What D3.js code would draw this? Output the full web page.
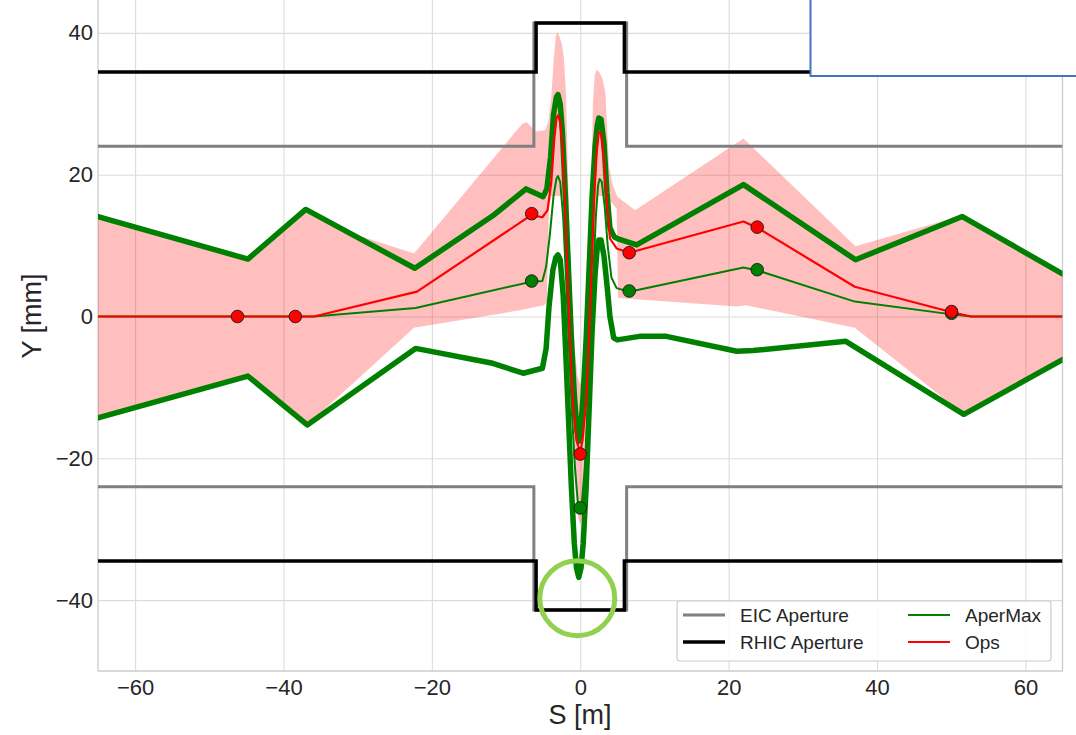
<!DOCTYPE html>
<html><head><meta charset="utf-8">
<script src="https://cdn.jsdelivr.net/npm/d3@7"></script>
<style>
body{margin:0;background:#fff;}
svg{display:block;}
text{font-family:"Liberation Sans",Arial,sans-serif;fill:#262626;}
</style>
</head><body>
<svg id="chart" width="1076" height="735"></svg>
<script>
// ---------------- data ----------------
const xTicks = [-60, -40, -20, 0, 20, 40, 60];
const yTicks = [-40, -20, 0, 20, 40];

// apertures
const eicS      = [-65, -6.25, -6.25, 6.25, 6.25, 65];
const eicTop    = [24, 24, 41.4, 41.4, 24, 24];
const eicBottom = [-24, -24, -41.4, -41.4, -24, -24];
const rhicS      = [-65, -5.95, -5.95, 5.95, 5.95, 65];
const rhicTop    = [34.5, 34.5, 41.4, 41.4, 34.5, 34.5];
const rhicBottom = [-34.5, -34.5, -41.4, -41.4, -34.5, -34.5];

// AperMax envelope (thick green)
const aperUpperS = [-65, -44.8, -37.0, -22.3, -11.8, -7.3, -5.0, -4.5, -4.0, -3.6, -3.2, -3.0, -2.7, -2.4, -2.0, -1.6, -1.2, -0.8, -0.45, -0.2, 0.05, 0.4, 0.8, 1.2, 1.6, 2.0, 2.3, 2.5, 2.8, 3.2, 3.6, 4.0, 4.6, 5.2, 7.6, 22.0, 37.1, 51.5, 65];
const aperUpperY = [14.1, 8.1, 15.1, 6.8, 14.2, 18.0, 16.9, 18.0, 22.5, 28.5, 31.0, 31.3, 30.0, 26.0, 17.0, 7.0, -3.0, -11.0, -16.0, -17.6, -16.0, -11.0, -3.0, 7.0, 17.0, 24.0, 27.0, 28.0, 27.8, 24.5, 17.5, 12.5, 11.2, 10.9, 10.1, 18.6, 8.0, 14.1, 6.0];
const aperLowerS = [-65, -44.8, -36.8, -22.2, -11.8, -7.7, -5.1, -4.6, -4.2, -3.7, -3.3, -3.0, -2.7, -2.3, -2.0, -1.6, -1.2, -0.8, -0.5, -0.2, 0.1, 0.4, 0.8, 1.2, 1.6, 2.0, 2.3, 2.5, 2.8, 3.2, 3.6, 4.0, 4.5, 5.0, 8.0, 11.6, 21.1, 23.3, 35.8, 51.7, 65];
const aperLowerY = [-14.3, -8.4, -15.3, -4.5, -6.6, -8.0, -7.3, -4.5, 1.5, 6.5, 8.3, 8.7, 8.0, 3.0, -4.0, -14.0, -24.0, -32.0, -35.5, -36.8, -35.5, -32.0, -24.0, -13.0, -2.0, 6.0, 9.8, 10.8, 10.8, 8.5, 4.5, 0.0, -3.0, -3.3, -2.8, -2.8, -4.9, -4.8, -3.5, -13.8, -6.1];

// AperMax orbit (thin green)
const aperOrbitS = [-65, -35.9, -22.2, -6.6, -5.1, -4.6, -4.1, -3.6, -3.2, -3.0, -2.7, -2.3, -1.9, -1.5, -1.1, -0.7, -0.3, 0, 0.2, 0.6, 1.0, 1.4, 1.8, 2.1, 2.4, 2.6, 2.9, 3.3, 3.7, 4.2, 4.9, 6.6, 22.0, 23.9, 37.0, 50.1, 52.7, 65];
const aperOrbitY = [0, 0, 1.2, 4.9, 5.0, 7.0, 11.5, 17.0, 19.5, 19.8, 19.0, 14.0, 5.0, -5.0, -14.0, -21.5, -26.5, -27.1, -26.5, -21.5, -13.5, -3.5, 7.0, 14.0, 18.5, 19.4, 19.0, 15.5, 10.0, 5.5, 4.0, 3.5, 6.9, 6.5, 2.1, 0.3, 0, 0];

// Ops orbit (red)
const opsS = [-65, -35.9, -22.0, -6.6, -5.1, -4.4, -3.9, -3.5, -3.2, -3.0, -2.7, -2.4, -2.1, -1.8, -1.4, -1.0, -0.5, 0, 0.3, 0.8, 1.2, 1.6, 1.9, 2.2, 2.5, 2.8, 3.2, 3.6, 4.0, 4.9, 6.6, 22.0, 23.9, 37.0, 50.1, 52.7, 65];
const opsY = [0, 0, 3.5, 14.3, 14.0, 15.0, 19.0, 25.0, 28.0, 28.4, 27.5, 24.0, 17.0, 8.0, -3.0, -12.0, -17.5, -19.2, -17.5, -12.0, -2.5, 8.5, 17.0, 23.0, 26.0, 25.8, 22.0, 16.0, 11.0, 9.6, 9.0, 13.4, 12.5, 4.2, 0.6, 0, 0];

// Ops envelope (pink band)
const opsUpperS = [-65, -44.8, -37.0, -32.8, -22.4, -7.8, -7.2, -6.0, -4.7, -4.3, -3.9, -3.6, -3.3, -3.1, -2.8, -2.5, -2.2, -1.9, -1.65, -1.4, -1.1, -0.7, -0.35, 0, 0.35, 0.7, 1.1, 1.4, 1.7, 1.95, 2.2, 2.6, 3.0, 3.4, 3.65, 3.9, 4.4, 5.0, 7.4, 22.0, 37.1, 51.0, 65];
const opsUpperY = [14.1, 8.2, 15.1, 12.4, 8.9, 27.2, 27.4, 26.1, 26.3, 27.5, 31.0, 36.0, 39.5, 40.1, 39.5, 38.5, 36.5, 31.0, 20.0, 10.0, 2.0, -5.0, -8.5, -9.6, -8.5, -5.0, 2.0, 12.0, 30.0, 34.0, 34.8, 34.4, 33.5, 31.5, 26.0, 21.0, 18.5, 16.9, 15.0, 25.1, 9.9, 14.1, 6.0];
const opsLowerS = [-65, -44.8, -36.8, -22.4, -8.0, -4.9, -4.5, -4.2, -3.9, -2.3, -2.0, -1.7, -1.4, -1.0, -0.6, -0.25, 0, 0.25, 0.6, 1.0, 1.4, 1.7, 2.0, 2.3, 3.5, 4.9, 5.1, 21.1, 22.3, 37.0, 51.7, 65];
const opsLowerY = [-14.3, -8.4, -15.3, -1.6, 0.9, 1.6, 2.0, 16.0, 17.0, 17.0, 12.0, 2.0, -8.0, -18.0, -25.0, -28.5, -29.3, -28.5, -25.0, -18.0, -8.0, 2.0, 12.0, 17.0, 17.0, 15.2, 2.6, 1.4, 1.6, -1.6, -13.8, -6.1];

// markers
const opsMarkS = [-46.2, -38.4, -6.55, 0, 6.6, 23.85, 50.05];
const opsMarkY = [0, 0, 14.5, -19.4, 9.0, 12.6, 0.7];
const aperMarkS = [-6.55, 0, 6.6, 23.85, 50.05];
const aperMarkY = [5.0, -27.0, 3.6, 6.6, 0.45];

const legendLabels = ["EIC Aperture", "RHIC Aperture", "AperMax", "Ops"];
const legendColors = ["#808080", "#000000", "#008000", "#ff0000"];

// ---------------- chart ----------------
const svg = d3.select("#chart");
const L = 98, R = 1062.5, T = 0, B = 671;
const x = d3.scaleLinear().domain([-65, 65]).range([L, R]);
const y = d3.scaleLinear().domain([-50, 44.64]).range([B, T]);
const zip = (a, b) => a.map((v, i) => [v, b[i]]);

svg.append("rect").attr("width", 1076).attr("height", 735).attr("fill", "#fff");

svg.append("defs").append("clipPath").attr("id", "clip")
  .append("rect").attr("x", L).attr("y", -10).attr("width", R - L).attr("height", B + 10);

// grid
const gx = svg.append("g").attr("transform", `translate(0,${B})`)
  .call(d3.axisBottom(x).tickValues(xTicks).tickSize(-(B + 10)).tickFormat(""));
gx.select(".domain").remove();
gx.selectAll("line").attr("stroke", "#dcdcdc").attr("stroke-width", 1.1);
const gy = svg.append("g").attr("transform", `translate(${L},0)`)
  .call(d3.axisLeft(y).tickValues(yTicks).tickSize(-(R - L)).tickFormat(""));
gy.select(".domain").remove();
gy.selectAll("line").attr("stroke", "#dcdcdc").attr("stroke-width", 1.1);

// spines
svg.append("line").attr("x1", L).attr("x2", L).attr("y1", -5).attr("y2", B).attr("stroke", "#cccccc").attr("stroke-width", 1.3);
svg.append("line").attr("x1", R).attr("x2", R).attr("y1", -5).attr("y2", B).attr("stroke", "#cccccc").attr("stroke-width", 1.3);
svg.append("line").attr("x1", L).attr("x2", R).attr("y1", B).attr("y2", B).attr("stroke", "#cccccc").attr("stroke-width", 1.3);

const plot = svg.append("g").attr("clip-path", "url(#clip)");
const lineL = d3.line().x(d => x(d[0])).y(d => y(d[1]));

// pink band
const up = zip(opsUpperS, opsUpperY);
const lo = zip(opsLowerS, opsLowerY).reverse();
const bandPath = lineL(up) + lineL(lo).replace(/^M/, "L") + "Z";
plot.append("path").attr("d", bandPath).attr("fill", "#ff0000").attr("fill-opacity", 0.25).attr("stroke", "none");

// apertures
[eicTop, eicBottom].forEach(ys => {
  plot.append("path").attr("d", lineL(zip(eicS, ys))).attr("fill", "none").attr("stroke", "#808080").attr("stroke-width", 3);
});
[rhicTop, rhicBottom].forEach(ys => {
  plot.append("path").attr("d", lineL(zip(rhicS, ys))).attr("fill", "none").attr("stroke", "#000000").attr("stroke-width", 3.5);
});

// envelopes
[[aperUpperS, aperUpperY], [aperLowerS, aperLowerY]].forEach(([ss, ys]) => {
  plot.append("path").attr("d", lineL(zip(ss, ys))).attr("fill", "none")
    .attr("stroke", "#008000").attr("stroke-width", 5.5).attr("stroke-linejoin", "round").attr("stroke-linecap", "round");
});
plot.append("path").attr("d", lineL(zip(aperOrbitS, aperOrbitY))).attr("fill", "none")
  .attr("stroke", "#008000").attr("stroke-width", 2).attr("stroke-linejoin", "round");
plot.append("path").attr("d", lineL(zip(opsS, opsY))).attr("fill", "none")
  .attr("stroke", "#ff0000").attr("stroke-width", 2.2).attr("stroke-linejoin", "round");

// markers
plot.selectAll("circle.am").data(zip(aperMarkS, aperMarkY)).join("circle").attr("class", "am")
  .attr("cx", d => x(d[0])).attr("cy", d => y(d[1])).attr("r", 6.3)
  .attr("fill", "#008000").attr("stroke", "#1a1a1a").attr("stroke-width", 0.9);
plot.selectAll("circle.om").data(zip(opsMarkS, opsMarkY)).join("circle").attr("class", "om")
  .attr("cx", d => x(d[0])).attr("cy", d => y(d[1])).attr("r", 6.3)
  .attr("fill", "#ff0000").attr("stroke", "#1a1a1a").attr("stroke-width", 0.9);

// axes labels
const ax = svg.append("g").attr("transform", `translate(0,${B})`)
  .call(d3.axisBottom(x).tickValues(xTicks).tickSize(0).tickPadding(8));
ax.select(".domain").remove();
ax.selectAll("text").style("font-size", "22px").attr("fill", "#262626");
const ay = svg.append("g").attr("transform", `translate(${L},0)`)
  .call(d3.axisLeft(y).tickValues(yTicks).tickSize(0).tickPadding(5));
ay.select(".domain").remove();
ay.selectAll("text").style("font-size", "22px").attr("fill", "#262626");

svg.append("text").attr("x", 580).attr("y", 724).attr("text-anchor", "middle")
  .style("font-size", "27px").text("S [m]");
svg.append("text").attr("transform", "translate(41,316) rotate(-90)").attr("text-anchor", "middle")
  .style("font-size", "27px").text("Y [mm]");

// legend
const lg = svg.append("g");
lg.append("rect").attr("x", 677).attr("y", 601).attr("width", 374).attr("height", 60)
  .attr("rx", 3).attr("fill", "#fff").attr("fill-opacity", 0.85).attr("stroke", "#cccccc").attr("stroke-width", 1.2);
const legPos = [[683, 615], [683, 642], [908, 615], [908, 642]];
const legW = [3, 3.5, 2, 2];
legendLabels.forEach((lab, i) => {
  const [lx, ly] = legPos[i];
  lg.append("line").attr("x1", lx).attr("x2", lx + 42).attr("y1", ly).attr("y2", ly)
    .attr("stroke", legendColors[i]).attr("stroke-width", legW[i]);
  lg.append("text").attr("x", lx + 57).attr("y", ly).attr("dy", "0.35em")
    .style("font-size", "19px").text(lab);
});

// annotations
svg.append("rect").attr("x", 810.5).attr("y", -5).attr("width", 300).attr("height", 81)
  .attr("fill", "#fff").attr("stroke", "#4472C4").attr("stroke-width", 2);
svg.append("circle").attr("cx", 577.3).attr("cy", 598.3).attr("r", 37.5)
  .attr("fill", "none").attr("stroke", "#92D050").attr("stroke-width", 5);
</script>
</body></html>
